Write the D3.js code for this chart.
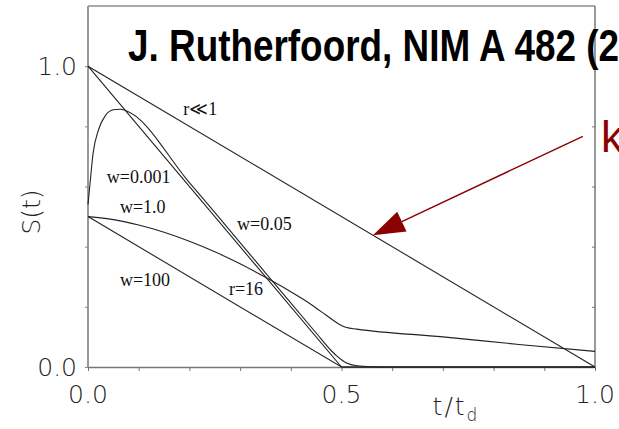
<!DOCTYPE html>
<html>
<head>
<meta charset="utf-8">
<script src="https://cdn.jsdelivr.net/npm/d3@7"></script>
<style>
  html, body { margin: 0; padding: 0; background: #fff; }
  svg { display: block; }
</style>
</head>
<body>
<svg id="chart" width="619" height="429"></svg>
<script>
// Normalised signal S(t) versus drift time t/t_d
const rSmallT = [0, 1.0];
const rSmallS = [1.0, 0];

const w0001T = [0, 0.5, 1.0];
const w0001S = [1.0, 0, 0];

const w005T = [0, 0.004, 0.01, 0.02, 0.034, 0.05, 0.063, 0.075, 0.2, 0.35, 0.45, 0.48, 0.49, 0.5, 0.51, 0.53, 0.56, 0.6, 1.0];
const w005S = [0.54, 0.61, 0.71, 0.785, 0.835, 0.855, 0.857, 0.852, 0.613, 0.313, 0.113, 0.054, 0.038, 0.024, 0.013, 0.004, 0.001, 0, 0];

const w1T = [0, 0.05, 0.1, 0.15, 0.2, 0.25, 0.3, 0.35, 0.4, 0.44, 0.47, 0.49, 0.5, 0.51, 0.53, 0.7, 0.85, 1.0];
const w1S = [0.5, 0.49, 0.472, 0.448, 0.418, 0.383, 0.343, 0.298, 0.25, 0.208, 0.172, 0.148, 0.138, 0.131, 0.126, 0.1, 0.075, 0.052];

const w100T = [0, 0.5, 1.0];
const w100S = [0.5, 0, 0];

const xTicks = [0, 0.1, 0.2, 0.3, 0.4, 0.5, 0.6, 0.7, 0.8, 0.9, 1.0];
const xTickLabels = ["0.0", "0.5", "1.0"];
const yTicks = [0, 0.2, 0.4, 0.6, 0.8, 1.0];
const yTickLabels = ["0.0", "1.0"];

// curve labels: [text, t, S]
const curveLabels = [
  ["r\u226A1", 0.188, 0.837],
  ["w=0.001", 0.037, 0.612],
  ["w=1.0", 0.063, 0.512],
  ["w=0.05", 0.294, 0.455],
  ["w=100", 0.063, 0.269],
  ["r=16", 0.278, 0.239]
];

// annotation arrow, tail and tip in data units
const arrowTail = [0.976, 0.767];
const arrowTip = [0.562, 0.438];

const svg = d3.select("#chart");
const x = d3.scaleLinear().domain([0, 1]).range([88, 595]);
const y = d3.scaleLinear().domain([0, 1.2]).range([367, 6]);

const tickFont = "'DejaVu Sans', sans-serif";
const labelFont = "'Liberation Serif', 'Times New Roman', serif";

// frame
svg.append("line").attr("x1", x(0)).attr("x2", x(1)).attr("y1", y(1.2)).attr("y2", y(1.2))
  .attr("stroke", "#555").attr("stroke-width", 1.2);
svg.append("line").attr("x1", x(1)).attr("x2", x(1)).attr("y1", y(1.2)).attr("y2", y(0))
  .attr("stroke", "#555").attr("stroke-width", 1.2);

// bottom axis
const xAxis = d3.axisBottom(x).tickValues(xTicks).tickSize(4).tickSizeOuter(0).tickFormat("");
const gx = svg.append("g").attr("transform", `translate(0,${y(0)})`).call(xAxis);
gx.select(".domain").attr("stroke", "#777").attr("stroke-width", 1.5);
gx.selectAll(".tick line").attr("stroke", "#777");

// left axis
const yAxis = d3.axisLeft(y).tickValues(yTicks).tickSize(3).tickSizeOuter(0).tickFormat("");
const gy = svg.append("g").attr("transform", `translate(${x(0)},0)`).call(yAxis);
gy.select(".domain").attr("stroke", "#999").attr("stroke-width", 2)
  .attr("d", `M0,${y(0)}V${y(1.2)}`);
gy.selectAll(".tick line").attr("stroke", "#888");

// right side ticks pointing inward
const yAxisR = d3.axisLeft(y).tickValues(yTicks).tickSize(-3).tickSizeOuter(0).tickFormat("");
const gyr = svg.append("g").attr("transform", `translate(${x(1)},0)`).call(yAxisR);
gyr.select(".domain").remove();
gyr.selectAll(".tick line").attr("stroke", "#777").attr("x2", -3);

// tick labels
svg.selectAll(".xlab").data(xTickLabels).enter().append("text")
  .attr("x", d => x(+d)).attr("y", 403)
  .attr("text-anchor", "middle")
  .attr("font-family", tickFont).attr("font-weight", 200).attr("font-size", 25)
  .attr("fill", "#222").text(d => d);
svg.selectAll(".ylab").data(yTickLabels).enter().append("text")
  .attr("x", x(0) - 11).attr("y", d => y(+d)).attr("dy", "0.36em")
  .attr("text-anchor", "end")
  .attr("font-family", tickFont).attr("font-weight", 200).attr("font-size", 25)
  .attr("fill", "#222").text(d => d);

// axis titles
const xt = svg.append("text").attr("x", 456).attr("y", 415)
  .attr("text-anchor", "middle").attr("letter-spacing", 2)
  .attr("font-family", tickFont).attr("font-weight", 200).attr("font-size", 25).attr("fill", "#222");
xt.append("tspan").text("t/t");
xt.append("tspan").attr("dy", 6).attr("font-size", 17).text("d");

svg.append("text").attr("transform", "translate(40,212) rotate(-90)")
  .attr("text-anchor", "middle")
  .attr("font-family", tickFont).attr("font-weight", 200).attr("font-size", 25)
  .attr("fill", "#222").text("S(t)");

// curves
const series = [
  [rSmallT, rSmallS, d3.curveLinear],
  [w0001T, w0001S, d3.curveLinear],
  [w005T, w005S, d3.curveMonotoneX],
  [w1T, w1S, d3.curveMonotoneX],
  [w100T, w100S, d3.curveLinear]
];
series.forEach(([ts, ss, c]) => {
  const pts = ts.map((t, i) => [t, ss[i]]);
  svg.append("path").datum(pts)
    .attr("d", d3.line().x(d => x(d[0])).y(d => y(d[1])).curve(c))
    .attr("fill", "none").attr("stroke", "#222").attr("stroke-width", 1.1);
});

// curve labels
svg.selectAll(".clab").data(curveLabels).enter().append("text")
  .attr("x", d => x(d[1])).attr("y", d => y(d[2]))
  .attr("font-family", labelFont).attr("font-size", 18).attr("fill", "#111")
  .text(d => d[0]);

// title, condensed horizontally
svg.append("text").attr("transform", "translate(128,61) scale(0.82,1)")
  .attr("font-family", "'Liberation Sans', Arial, sans-serif")
  .attr("font-weight", "bold").attr("font-size", 45).attr("fill", "#000")
  .text("J. Rutherfoord, NIM A 482 (2002)");

// annotation
const red = "#8b0000";
const tx = x(arrowTail[0]), ty = y(arrowTail[1]);
const hx = x(arrowTip[0]), hy = y(arrowTip[1]);
const len = Math.hypot(hx - tx, hy - ty);
const ux = (hx - tx) / len, uy = (hy - ty) / len;
const headL = 32, headW = 11;
const bx = hx - ux * headL, by = hy - uy * headL;
svg.append("line").attr("x1", tx).attr("y1", ty).attr("x2", bx).attr("y2", by)
  .attr("stroke", red).attr("stroke-width", 1.4);
svg.append("path")
  .attr("d", `M${hx},${hy}L${bx - uy * headW},${by + ux * headW}L${bx + uy * headW},${by - ux * headW}Z`)
  .attr("fill", red);
svg.append("text").attr("x", 601).attr("y", 152)
  .attr("font-family", "'Liberation Sans', Arial, sans-serif").attr("font-size", 44)
  .attr("fill", red).text("k");
</script>
</body>
</html>
